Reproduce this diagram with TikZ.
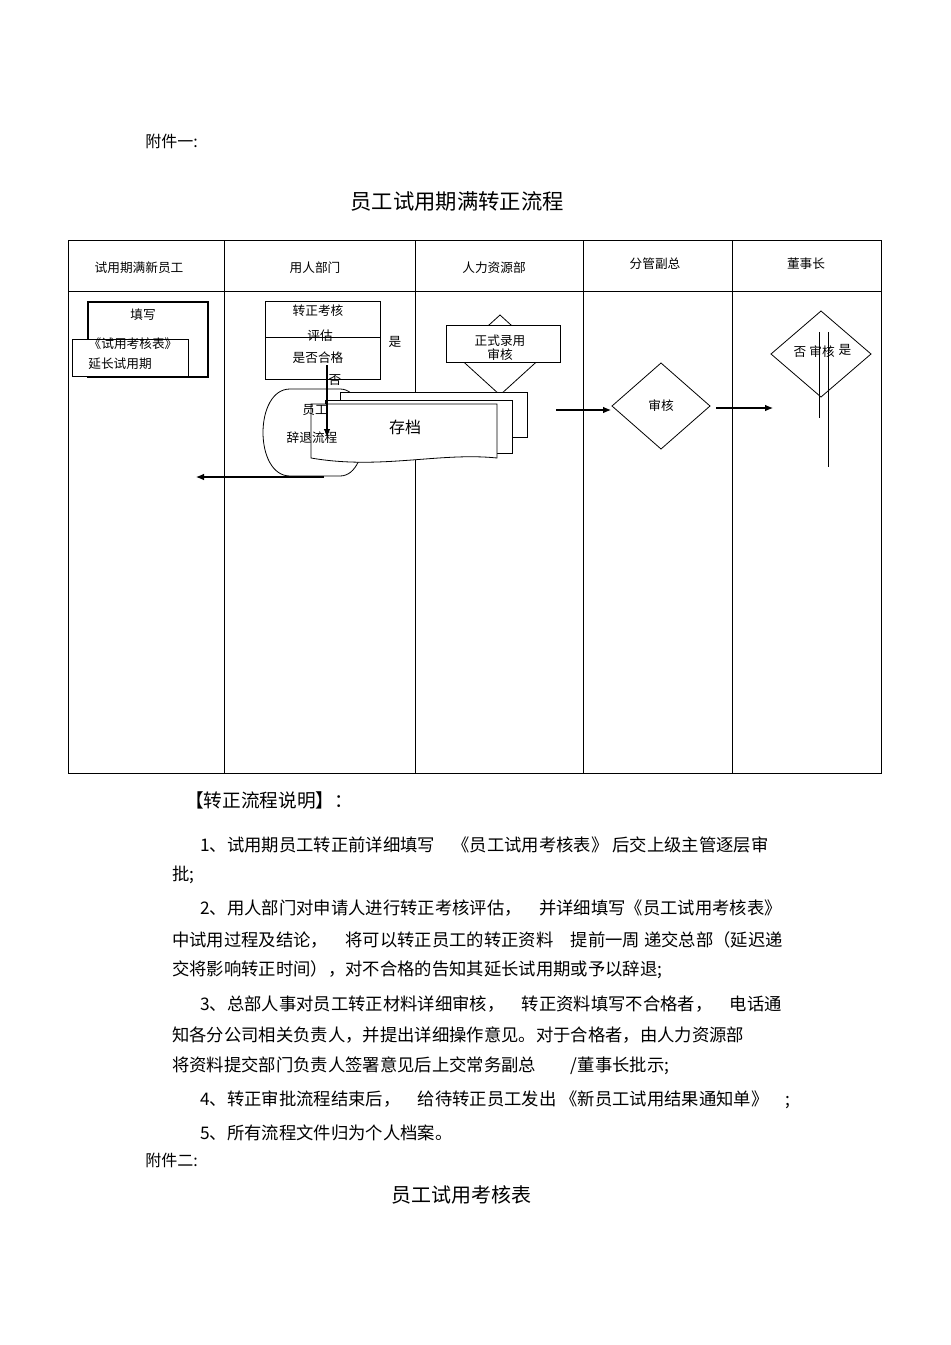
\documentclass[tikz,border=0pt]{standalone}
\usepackage{fontspec}
\setmainfont{Noto Sans CJK SC}
\usetikzlibrary{arrows.meta,positioning}

\tikzset{
  lane/.style={draw, line width=0.6pt},
  box/.style={draw, fill=white, line width=0.6pt},
  head/.style={font=\fontsize{9.5}{11}\selectfont},
  lbl/.style={font=\fontsize{9.5}{11}\selectfont, inner sep=0pt},
  para/.style={anchor=west, font=\fontsize{13}{15}\selectfont, inner sep=0pt},
  flow/.style={-{Latex[length=6pt,width=5pt]}, line width=0.8pt},
}

\begin{document}
\begin{tikzpicture}[x=0.75pt,y=-0.75pt]
\useasboundingbox (0,0) rectangle (950,1345);

\node[para, font=\fontsize{12}{14}\selectfont] (att1) at (145,141) {附件一:};
\node[font=\fontsize{16}{18}\selectfont] (title) at (457,201) {员工试用期满转正流程};

% swimlanes
\draw[lane] (68,240) rectangle (881,773);
\draw[lane] (68,291) -- (881,291);
\foreach \x in {224,415,583,732}
  \draw[lane] (\x,240) -- (\x,773);
\node[head] (h1) at (139,268) {试用期满新员工};
\node[head] (h2) at (315,268) {用人部门};
\node[head] (h3) at (494,268) {人力资源部};
\node[head] (h4) at (655,264) {分管副总};
\node[head] (h5) at (806,264) {董事长};

% new employee lane
\draw[line width=2.2pt] (88,302) rectangle (208,377);
\draw[box] (72,339) rectangle (188,376);
\node[lbl] (fill) at (143,315) {填写};
\node[lbl] (ext) at (120,364) {延长试用期};
\node[lbl] (form) at (133,344) {《试用考核表》};

% department lane
\draw[box] (265,301) rectangle (380,379);
\draw[lane] (265,337) -- (380,337);
\draw[lane] (380,337) -- (380,350);
\node[lbl] (e1) at (318,311) {转正考核};
\node[lbl] (e2) at (320,336) {评估};
\node[lbl] (e3) at (318,358) {是否合格};
\node[lbl] (yes1) at (395,342) {是};
\node[lbl] (no1) at (335,380) {否};
\draw[box] (290,389) -- (340,389) .. controls (372,389) and (372,476) .. (340,476)
  -- (290,476) .. controls (254,476) and (254,389) .. (290,389) -- cycle;

% HR lane
\draw[box] (500,315) -- (544,355) -- (500,395) -- (456,355) -- cycle;
\draw[box] (446,325) rectangle (560,362);
\node[lbl] (hr1) at (500,341) {正式录用};
\node[lbl] (hr2) at (500,355) {审核};
\draw[box] (340,392) rectangle (527,437);
\draw[box] (325,400) rectangle (512,453);
\draw[box] (311,404) -- (497,404) -- (497,458)
  .. controls (440,452) and (380,470) .. (311,458) -- cycle;
\node[font=\fontsize{12}{14}\selectfont] (arch) at (405,427) {存档};
\node[lbl] (q1) at (315,410) {员工};
\node[lbl] (q2) at (312,438) {辞退流程};

\coordinate (c1) at (327,365);
\coordinate (c2) at (327,437);
\draw[flow] (c1) -- (c2);
\coordinate (c3) at (324,477);
\coordinate (c4) at (196,477);
\draw[flow] (c3) -- (c4);

% vice GM lane
\draw[box] (661,363) -- (710,406) -- (661,449) -- (612,406) -- cycle;
\node[lbl] (vp) at (661,406) {审核};
\coordinate (c5) at (556,410);
\coordinate (c6) at (611,410);
\draw[flow] (c5) -- (c6);

% chairman lane
\draw[box] (821,311) -- (871,354) -- (821,397) -- (771,354) -- cycle;
\coordinate (c7) at (716,408);
\coordinate (c8) at (773,408);
\draw[flow] (c7) -- (c8);
\draw[lane] (819,332) -- (819,418);
\draw[lane] (828,332) -- (828,467);
\node[lbl] (ch0) at (800,352) {否};
\node[lbl] (ch1) at (822,352) {审核};
\node[lbl] (ch2) at (845,350) {是};

% notes
\node[para, font=\fontsize{14}{16}\selectfont] (notes) at (185,800) {【转正流程说明】：};
\node[para] (l1) at (200,845) {1、试用期员工转正前详细填写　《员工试用考核表》 后交上级主管逐层审};
\node[para] (l2) at (172,875) {批;};
\node[para] (l3) at (200,908) {2、用人部门对申请人进行转正考核评估，　并详细填写《员工试用考核表》};
\node[para] (l4) at (172,940) {中试用过程及结论，　将可以转正员工的转正资料　提前一周 递交总部（延迟递};
\node[para] (l5) at (172,970) {交将影响转正时间），对不合格的告知其延长试用期或予以辞退;};
\node[para] (l6) at (200,1004) {3、总部人事对员工转正材料详细审核，　转正资料填写不合格者，　电话通};
\node[para] (l7) at (172,1035) {知各分公司相关负责人，并提出详细操作意见。对于合格者，由人力资源部};
\node[para] (l8) at (172,1066) {将资料提交部门负责人签署意见后上交常务副总　　/董事长批示;};
\node[para] (l9) at (200,1100) {4、转正审批流程结束后，　给待转正员工发出 《新员工试用结果通知单》　;};
\node[para] (l10) at (200,1133) {5、所有流程文件归为个人档案。};
\node[para, font=\fontsize{12}{14}\selectfont] (att2) at (145,1160) {附件二:};
\node[font=\fontsize{15}{17}\selectfont] (title2) at (461,1195) {员工试用考核表};
\end{tikzpicture}
\end{document}
